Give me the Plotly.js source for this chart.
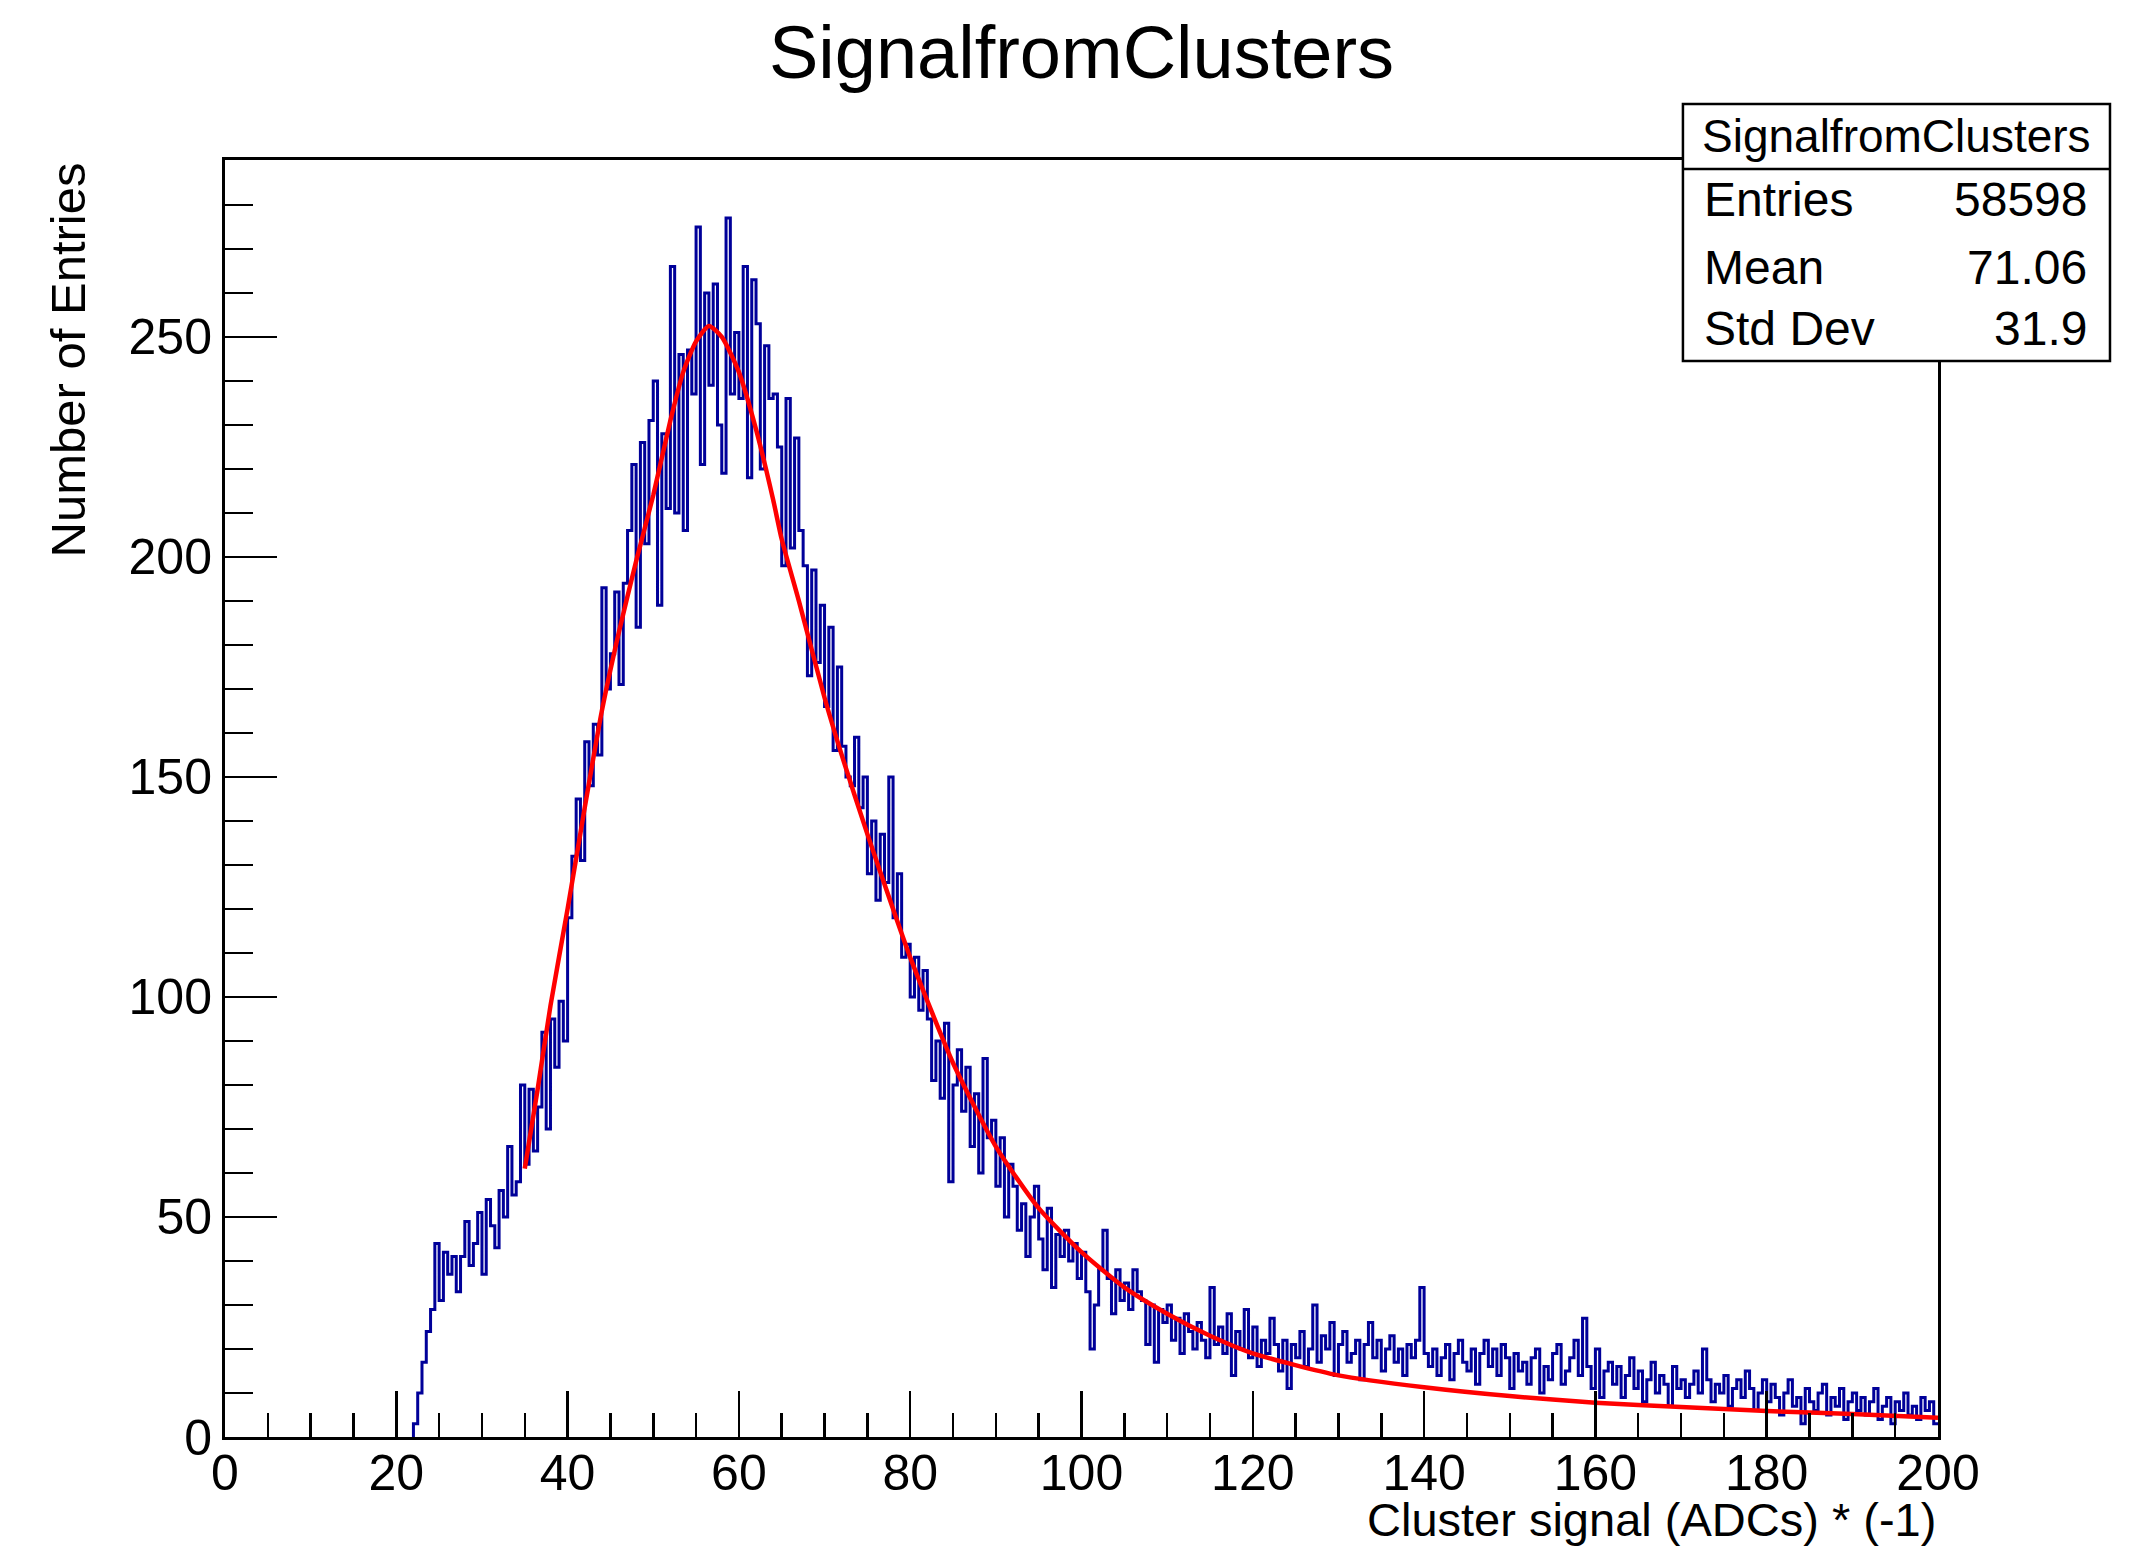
<!DOCTYPE html>
<html>
<head>
<meta charset="utf-8">
<script src="https://cdn.plot.ly/plotly-3.0.1.min.js"></script>
<style>
  html, body { margin: 0; padding: 0; background: #ffffff; }
  #chart { width: 2142px; height: 1550px; }
</style>
</head>
<body>
<div id="chart"></div>
<script>
// ---- Data ----
const chartTitle = "SignalfromClusters";
const xAxisTitle = "Cluster signal (ADCs) * (-1)";
const yAxisTitle = "Number of Entries";

// Histogram: first bin low edge, bin width, and counts per bin (22.0 ... 200.0)
const histFirstEdge = 22.0;
const histBinWidth = 0.5;
const histCounts = [
  3, 10, 17, 24, 29, 44, 31, 42, 37, 41,
  33, 41, 49, 39, 44, 51, 37, 54, 48, 43,
  56, 50, 66, 55, 58, 80, 62, 79, 65, 75,
  92, 70, 95, 84, 99, 90, 118, 132, 145, 131,
  158, 148, 162, 155, 193, 170, 178, 192, 171, 194,
  206, 221, 184, 226, 203, 231, 240, 189, 228, 211,
  266, 210, 246, 206, 247, 237, 275, 221, 260, 239,
  262, 230, 219, 277, 237, 251, 236, 266, 218, 263,
  253, 220, 248, 236, 237, 225, 198, 236, 202, 227,
  206, 198, 173, 197, 176, 189, 166, 184, 156, 175,
  157, 150, 148, 159, 143, 150, 128, 140, 122, 137,
  126, 150, 118, 128, 109, 112, 100, 109, 97, 106,
  95, 81, 90, 77, 94, 58, 80, 88, 74, 84,
  66, 78, 60, 86, 68, 72, 57, 68, 50, 62,
  57, 47, 53, 41, 50, 57, 45, 38, 52, 34,
  46, 41, 47, 40, 44, 36, 42, 33, 20, 30,
  38, 47, 36, 28, 38, 31, 35, 29, 38, 33,
  31, 21, 30, 17, 29, 26, 30, 22, 27, 19,
  28, 24, 20, 26, 22, 18, 34, 21, 25, 19,
  28, 14, 24, 20, 29, 18, 25, 16, 22, 19,
  27, 21, 15, 22, 11, 21, 18, 24, 16, 20,
  30, 17, 23, 20, 26, 14, 21, 24, 17, 19,
  22, 13, 21, 26, 18, 22, 15, 20, 23, 17,
  20, 14, 21, 18, 22, 34, 19, 16, 20, 14,
  18, 21, 13, 19, 22, 17, 15, 20, 12, 19,
  22, 16, 20, 14, 21, 18, 11, 19, 15, 17,
  12, 18, 20, 10, 16, 13, 19, 21, 12, 15,
  18, 22, 14, 27, 16, 11, 20, 9, 15, 17,
  12, 16, 9, 14, 18, 11, 15, 8, 13, 17,
  10, 14, 12, 7, 16, 11, 13, 9, 12, 15,
  10, 20, 13, 8, 12, 10, 14, 7, 11, 13,
  9, 15, 11, 6, 10, 13, 8, 12, 9, 5,
  10, 13, 7, 9, 3, 11, 8, 6, 10, 12,
  5, 9, 7, 11, 4, 8, 10, 6, 9, 5,
  8, 11, 4, 7, 9, 3, 8, 6, 10, 5,
  7, 4, 9, 6, 8, 3
];

// Fitted curve (red)
const fitX = [35, 36.5, 38, 40, 42, 44, 46, 48, 50, 52, 53.5, 55, 56.5, 58, 60, 62, 64, 65, 67, 70, 72, 75, 78, 80, 85, 90, 95, 100, 105, 110, 115, 120, 130, 140, 150, 160, 170, 180, 190, 200];
const fitY = [61, 79, 98, 120, 143, 165, 183, 199, 214, 231, 242, 249, 252.5, 250, 242, 229, 213, 204, 190, 168, 155, 137, 120, 109, 85, 66, 52, 42, 34, 28, 23, 19, 14, 11.3, 9.3, 7.8, 6.8, 5.9, 5.2, 4.4];

// Stats box text
const statsTitle = "SignalfromClusters";
const statsLabels = ["Entries", "Mean", "Std Dev"];
const statsValues = ["58598", "71.06", "31.9"];

// Axis ranges / ticks
const xRange = [0, 200];
const yRange = [0, 290.2];

// ---- Build step histogram from the bins ----
const stepX = [histFirstEdge];
const stepY = [0];
for (let i = 0; i < histCounts.length; i++) {
  stepX.push(histFirstEdge + i * histBinWidth);
  stepY.push(histCounts[i]);
}
stepX.push(histFirstEdge + histCounts.length * histBinWidth);
stepY.push(histCounts[histCounts.length - 1]);

const FONT = '"Liberation Sans", Arial, Helvetica, sans-serif';

const traces = [
  {
    type: 'scatter', mode: 'lines', x: stepX, y: stepY,
    line: { shape: 'hv', color: '#000099', width: 3 },
    hoverinfo: 'skip', showlegend: false
  },
  {
    type: 'scatter', mode: 'lines', x: fitX, y: fitY,
    line: { shape: 'spline', smoothing: 0.6, color: '#ff0000', width: 4.5 },
    hoverinfo: 'skip', showlegend: false
  }
];

// stats box geometry (paper coords)
const bx0 = 0.8511, bx1 = 1.1004, by0 = 0.8426, by1 = 1.0438, bdiv = 0.9930;
const rowY = [0.9687, 0.9162, 0.8677];

const annotations = [
  { text: yAxisTitle, xref: 'paper', yref: 'paper', x: -0.0917, y: 1.0,
    xanchor: 'center', yanchor: 'top', textangle: -90, showarrow: false,
    font: { family: FONT, size: 49, color: '#000' } },
  { text: xAxisTitle, xref: 'paper', yref: 'paper', x: 1.0, y: -0.0645,
    xanchor: 'right', yanchor: 'middle', showarrow: false,
    font: { family: FONT, size: 47, color: '#000' } },
  { text: statsTitle, xref: 'paper', yref: 'paper', x: (bx0 + bx1) / 2, y: 1.0188,
    xanchor: 'center', yanchor: 'middle', showarrow: false,
    font: { family: FONT, size: 46, color: '#000' } }
];
statsLabels.forEach((lab, i) => {
  annotations.push({ text: lab, xref: 'paper', yref: 'paper', x: 0.862, y: rowY[i],
    xanchor: 'left', yanchor: 'middle', showarrow: false,
    font: { family: FONT, size: 48, color: '#000' } });
  annotations.push({ text: statsValues[i], xref: 'paper', yref: 'paper', x: 1.088, y: rowY[i],
    xanchor: 'right', yanchor: 'middle', showarrow: false,
    font: { family: FONT, size: 48, color: '#000' } });
});

const layout = {
  width: 2142, height: 1550,
  paper_bgcolor: '#ffffff', plot_bgcolor: '#ffffff',
  margin: { l: 225, r: 204, t: 160, b: 113, pad: 0 },
  font: { family: FONT, color: '#000' },
  title: { text: chartTitle, font: { family: FONT, size: 74, color: '#000' },
           x: 0.5, xref: 'paper', xanchor: 'center', y: 0.9665, yref: 'container', yanchor: 'middle' },
  showlegend: false,
  xaxis: {
    range: xRange, showgrid: false, zeroline: false,
    showline: true, linecolor: '#000', linewidth: 3, mirror: true,
    ticks: 'inside', ticklen: 46, tickwidth: 2.5, tickcolor: '#000',
    tick0: 0, dtick: 20,
    minor: { ticks: 'inside', dtick: 5, ticklen: 24, tickwidth: 2.5, tickcolor: '#000' },
    tickfont: { family: FONT, size: 50, color: '#000' },
    ticklabelstandoff: -10,
    fixedrange: true
  },
  yaxis: {
    range: yRange, showgrid: false, zeroline: false,
    showline: true, linecolor: '#000', linewidth: 3, mirror: true,
    ticks: 'inside', ticklen: 52, tickwidth: 2.5, tickcolor: '#000',
    tick0: 0, dtick: 50,
    minor: { ticks: 'inside', dtick: 10, ticklen: 28, tickwidth: 2.5, tickcolor: '#000' },
    tickfont: { family: FONT, size: 50, color: '#000' },
    fixedrange: true
  },
  shapes: [
    { type: 'rect', xref: 'paper', yref: 'paper', x0: bx0, x1: bx1, y0: by0, y1: by1,
      fillcolor: '#ffffff', line: { color: '#000', width: 2.5 }, layer: 'above' },
    { type: 'line', xref: 'paper', yref: 'paper', x0: bx0, x1: bx1, y0: bdiv, y1: bdiv,
      line: { color: '#000', width: 2.5 }, layer: 'above' }
  ],
  annotations: annotations
};

Plotly.newPlot('chart', traces, layout, { displayModeBar: false, staticPlot: true });
</script>
</body>
</html>
